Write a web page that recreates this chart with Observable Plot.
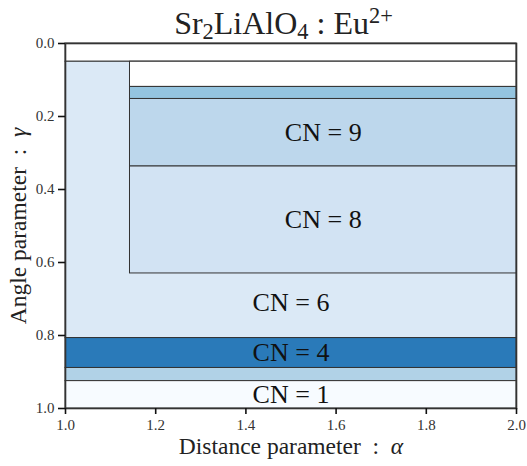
<!DOCTYPE html>
<html><head><meta charset="utf-8">
<script src="https://cdn.jsdelivr.net/npm/d3@7"></script>
<script src="https://cdn.jsdelivr.net/npm/@observablehq/plot@0.6"></script>
<style>
body{margin:0;background:#fff;font-family:'Liberation Serif';}
#title{font-family:'Liberation Serif';height:30px;width:527px;text-align:center;font-size:32px;line-height:47px;color:#222;white-space:nowrap;padding-left:40px;box-sizing:border-box;position:relative;z-index:1;}
#title sub{font-size:70%;vertical-align:-0.22em;line-height:0;}
#title sup{font-size:70%;vertical-align:0.5em;line-height:0;}
#chart svg{display:block;}
</style></head><body>
<div id="title">Sr<sub>2</sub>LiAlO<sub>4</sub>&#8197;:&#8197;Eu<sup>2+</sup></div>
<div id="chart"></div>
<script>
// Regions (drawn in order)
const regionNames  = ["top","cn6","innerTop","band1","cn9","cn8","cn4","band2","cn1"];
const regionX1     = [1.0, 1.0, 1.143, 1.143, 1.143, 1.143, 1.0, 1.0, 1.0];
const regionX2     = [2.0, 2.0, 2.0, 2.0, 2.0, 2.0, 2.0, 2.0, 2.0];
const regionY1     = [0.0, 0.05, 0.05, 0.119, 0.152, 0.337, 0.807, 0.889, 0.925];
const regionY2     = [0.05, 0.807, 0.119, 0.152, 0.337, 0.630, 0.889, 0.925, 1.0];
const regionColors = ["#ffffff","#dbe9f6","#ffffff","#94c4df","#bdd7ec","#d2e3f3","#2a7ab9","#b1d2e7","#f7fbff"];

// Labels
const labelTexts = ["CN = 9","CN = 8","CN = 6","CN = 4","CN = 1"];
const labelX     = [1.5715, 1.5715, 1.5, 1.5, 1.5];
const labelY     = [0.244, 0.484, 0.71, 0.848, 0.9625];

const xTicks = [1.0, 1.2, 1.4, 1.6, 1.8, 2.0];
const yTicks = [0.0, 0.2, 0.4, 0.6, 0.8, 1.0];

const regions = regionNames.map((n, i) => ({name: n, x1: regionX1[i], x2: regionX2[i], y1: regionY1[i], y2: regionY2[i]}));
const labels = labelTexts.map((t, i) => ({text: t, x: labelX[i], y: labelY[i]}));

const serif = "Liberation Serif";

const chart = Plot.plot({
  width: 527,
  height: 436,
  marginTop: 13,
  marginLeft: 65,
  marginRight: 11,
  marginBottom: 58,
  style: {fontFamily: serif, fontSize: "15px", color: "#222", background: "transparent", overflow: "visible"},
  x: {domain: [1, 2]},
  y: {domain: [0, 1], reverse: true},
  color: {type: "ordinal", domain: regionNames, range: regionColors},
  marks: [
    Plot.rect(regions, {x1: "x1", x2: "x2", y1: "y1", y2: "y2", fill: "name", stroke: "#333", strokeWidth: 1}),
    Plot.text(labels, {x: "x", y: "y", text: "text", fontSize: 26, fill: "#111", fontFamily: serif}),
    Plot.frame({stroke: "#333", strokeWidth: 1.6}),
    Plot.axisX({ticks: xTicks, tickFormat: d3.format(".1f"), tickSize: 6, tickPadding: 5, strokeWidth: 1.6, stroke: "#111",
      fontSize: 15, fontFamily: serif, fill: "#333",
      label: "Distance parameter : α", labelAnchor: "center", labelOffset: 45, labelArrow: "none"}),
    Plot.axisY({ticks: yTicks, tickFormat: d3.format(".1f"), tickSize: 7, tickPadding: 4, strokeWidth: 1.6, stroke: "#111",
      fontSize: 15, fontFamily: serif, fill: "#333",
      label: "Angle parameter : γ", labelAnchor: "center", labelOffset: 56, labelArrow: "none"})
  ]
});
document.getElementById("chart").appendChild(chart);

// enforce serif fonts on every text
chart.querySelectorAll("text").forEach(t => { t.style.fontFamily = "'Liberation Serif'"; });
chart.querySelectorAll('g[aria-label$="tick label"] text').forEach(t => { t.style.fontSize = "15px"; t.style.fill = "#333"; });

function italicizeLast(sel, prefix, greek) {
  const t = chart.querySelector(sel);
  if (!t) return;
  t.textContent = "";
  t.style.fontSize = "23.5px";
  t.style.fill = "#222";
  const ns = "http://www.w3.org/2000/svg";
  const a = document.createElementNS(ns, "tspan");
  a.textContent = prefix;
  const b = document.createElementNS(ns, "tspan");
  b.textContent = greek;
  b.setAttribute("font-style", "italic");
  t.appendChild(a); t.appendChild(b);
}
italicizeLast('g[aria-label="x-axis label"] text', "Distance parameter\u00a0\u00a0:\u00a0\u00a0", "α");
italicizeLast('g[aria-label="y-axis label"] text', "Angle parameter\u00a0\u00a0:\u00a0\u00a0", "γ");
</script>
</body></html>
